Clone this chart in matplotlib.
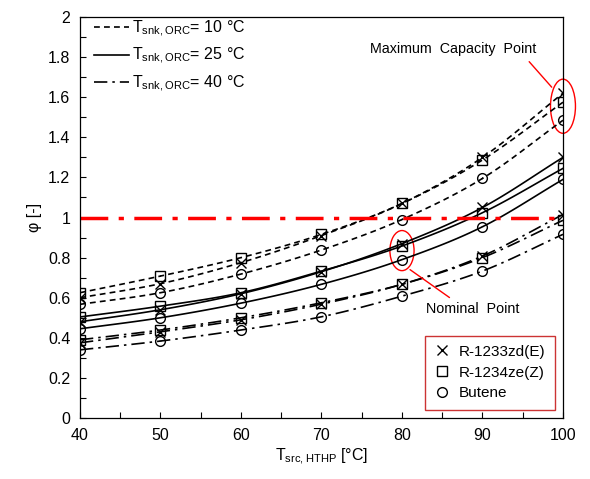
import numpy as np
import matplotlib
matplotlib.use('Agg')
import matplotlib.pyplot as plt
from matplotlib.lines import Line2D
from matplotlib.patches import Ellipse

plt.rcParams['font.family'] = ['Liberation Sans', 'DejaVu Sans']
plt.rcParams['mathtext.default'] = 'regular'

t_src = [40, 50, 60, 70, 80, 90, 100]
fluids = ['R-1233zd(E)', 'R-1234ze(Z)', 'Butene']
t_snk = [10, 25, 40]

# phi values [fluid][t_snk]
phi = {
    'R-1233zd(E)': {
        10: [0.60, 0.67, 0.775, 0.91, 1.07, 1.30, 1.62],
        25: [0.48, 0.54, 0.62, 0.73, 0.87, 1.05, 1.30],
        40: [0.375, 0.43, 0.49, 0.568, 0.667, 0.808, 1.015],
    },
    'R-1234ze(Z)': {
        10: [0.625, 0.708, 0.80, 0.916, 1.07, 1.287, 1.575],
        25: [0.504, 0.558, 0.625, 0.733, 0.858, 1.024, 1.245],
        40: [0.39, 0.439, 0.50, 0.575, 0.667, 0.80, 0.986],
    },
    'Butene': {
        10: [0.567, 0.625, 0.718, 0.838, 0.99, 1.195, 1.485],
        25: [0.445, 0.50, 0.573, 0.667, 0.79, 0.954, 1.19],
        40: [0.34, 0.384, 0.439, 0.505, 0.608, 0.733, 0.916],
    },
}

markers = {'R-1233zd(E)': 'x', 'R-1234ze(Z)': 's', 'Butene': 'o'}
styles = {10: (0, (3.5, 2.5)), 25: '-', 40: (0, (8, 3, 1.5, 3))}


def smooth(x, y, n=20):
    # Catmull-Rom style smoothing like Excel smoothed lines
    x = np.asarray(x, float)
    y = np.asarray(y, float)
    px = np.concatenate([[2 * x[0] - x[1]], x, [2 * x[-1] - x[-2]]])
    py = np.concatenate([[2 * y[0] - y[1]], y, [2 * y[-1] - y[-2]]])
    xs, ys = [], []
    t = np.linspace(0, 1, n)
    for i in range(1, len(px) - 2):
        p0, p1, p2, p3 = py[i - 1], py[i], py[i + 1], py[i + 2]
        q0, q1, q2, q3 = px[i - 1], px[i], px[i + 1], px[i + 2]
        ys.append(0.5 * (2 * p1 + (-p0 + p2) * t + (2 * p0 - 5 * p1 + 4 * p2 - p3) * t**2 + (-p0 + 3 * p1 - 3 * p2 + p3) * t**3))
        xs.append(0.5 * (2 * q1 + (-q0 + q2) * t + (2 * q0 - 5 * q1 + 4 * q2 - q3) * t**2 + (-q0 + 3 * q1 - 3 * q2 + q3) * t**3))
    return np.concatenate(xs), np.concatenate(ys)


fig = plt.figure(figsize=(5.9, 4.79), dpi=100)
ax = fig.add_axes([0.1356, 0.1273, 0.8186, 0.8372])

for f in fluids:
    for ts in t_snk:
        sx, sy = smooth(t_src, phi[f][ts])
        ax.plot(sx, sy, color='black', lw=1.2, linestyle=styles[ts])
        ax.plot(t_src, phi[f][ts], linestyle='none', marker=markers[f],
                markersize=7, markerfacecolor='none', markeredgecolor='black',
                markeredgewidth=1.0)

ax.plot([40, 100], [1, 1], color='red', lw=2.5, linestyle=(0, (8, 3, 1.5, 3)))

ax.add_patch(Ellipse((100, 1.555), 3.1, 0.27, fill=False, edgecolor='red', lw=1.0, clip_on=False))
ax.add_patch(Ellipse((80, 0.835), 3.0, 0.20, fill=False, edgecolor='red', lw=1.0))
ax.annotate('Maximum  Capacity  Point', xy=(98.6, 1.65), xytext=(86.3, 1.84),
            ha='center', va='center', fontsize=10.3,
            arrowprops=dict(arrowstyle='-', color='red', lw=1.0, shrinkA=0, shrinkB=0,
                            relpos=(0.96, -0.4)))
ax.annotate('Nominal  Point', xy=(81.0, 0.74), xytext=(88.8, 0.545),
            ha='center', va='center', fontsize=10.3,
            arrowprops=dict(arrowstyle='-', color='red', lw=1.0, shrinkA=0, shrinkB=0,
                            relpos=(0.25, 1.3)))

ax.set_xlim(40, 100)
ax.set_ylim(0, 2)
ax.set_xticks(np.arange(40, 101, 10))
ax.set_xticks(np.arange(45, 100, 10), minor=True)
ax.set_yticks(np.arange(0, 2.01, 0.2))
ax.set_yticks(np.arange(0.1, 2.0, 0.2), minor=True)
ax.set_yticklabels(['0', '0.2', '0.4', '0.6', '0.8', '1', '1.2', '1.4', '1.6', '1.8', '2'])
ax.tick_params(which='both', direction='in', length=4, labelsize=11.5, width=0.8)
ax.tick_params(axis='x', pad=7)
ax.tick_params(axis='y', pad=7)
ax.set_xlabel('T$_{src,HTHP}$ [°C]', fontsize=11.5, labelpad=3)
ax.set_ylabel('φ [-]', fontsize=11.5, labelpad=4)
for sp in ax.spines.values():
    sp.set_linewidth(0.9)

h1 = [Line2D([], [], color='black', lw=1.2, linestyle=styles[ts]) for ts in t_snk]
l1 = ['T$_{snk,ORC}$= %d °C' % ts for ts in t_snk]
leg1 = ax.legend(h1, l1, loc='upper left', bbox_to_anchor=(0.022, 1.004),
                 frameon=False, fontsize=11.5, borderpad=0.2,
                 handlelength=2.2, handletextpad=0.2, labelspacing=0.45,
                 borderaxespad=0.0)
ax.add_artist(leg1)

h2 = [Line2D([], [], linestyle='none', marker=markers[f], markersize=7,
             markerfacecolor='none', markeredgecolor='black') for f in fluids]
leg2 = ax.legend(h2, fluids, loc='lower right', fontsize=11, fancybox=False,
                 edgecolor='#c00000', handlelength=1.0, handletextpad=0.6,
                 labelspacing=0.45, borderaxespad=0.55, borderpad=0.6)
leg2.get_frame().set_linewidth(1.0)

fig.savefig('out.png', dpi=100)
